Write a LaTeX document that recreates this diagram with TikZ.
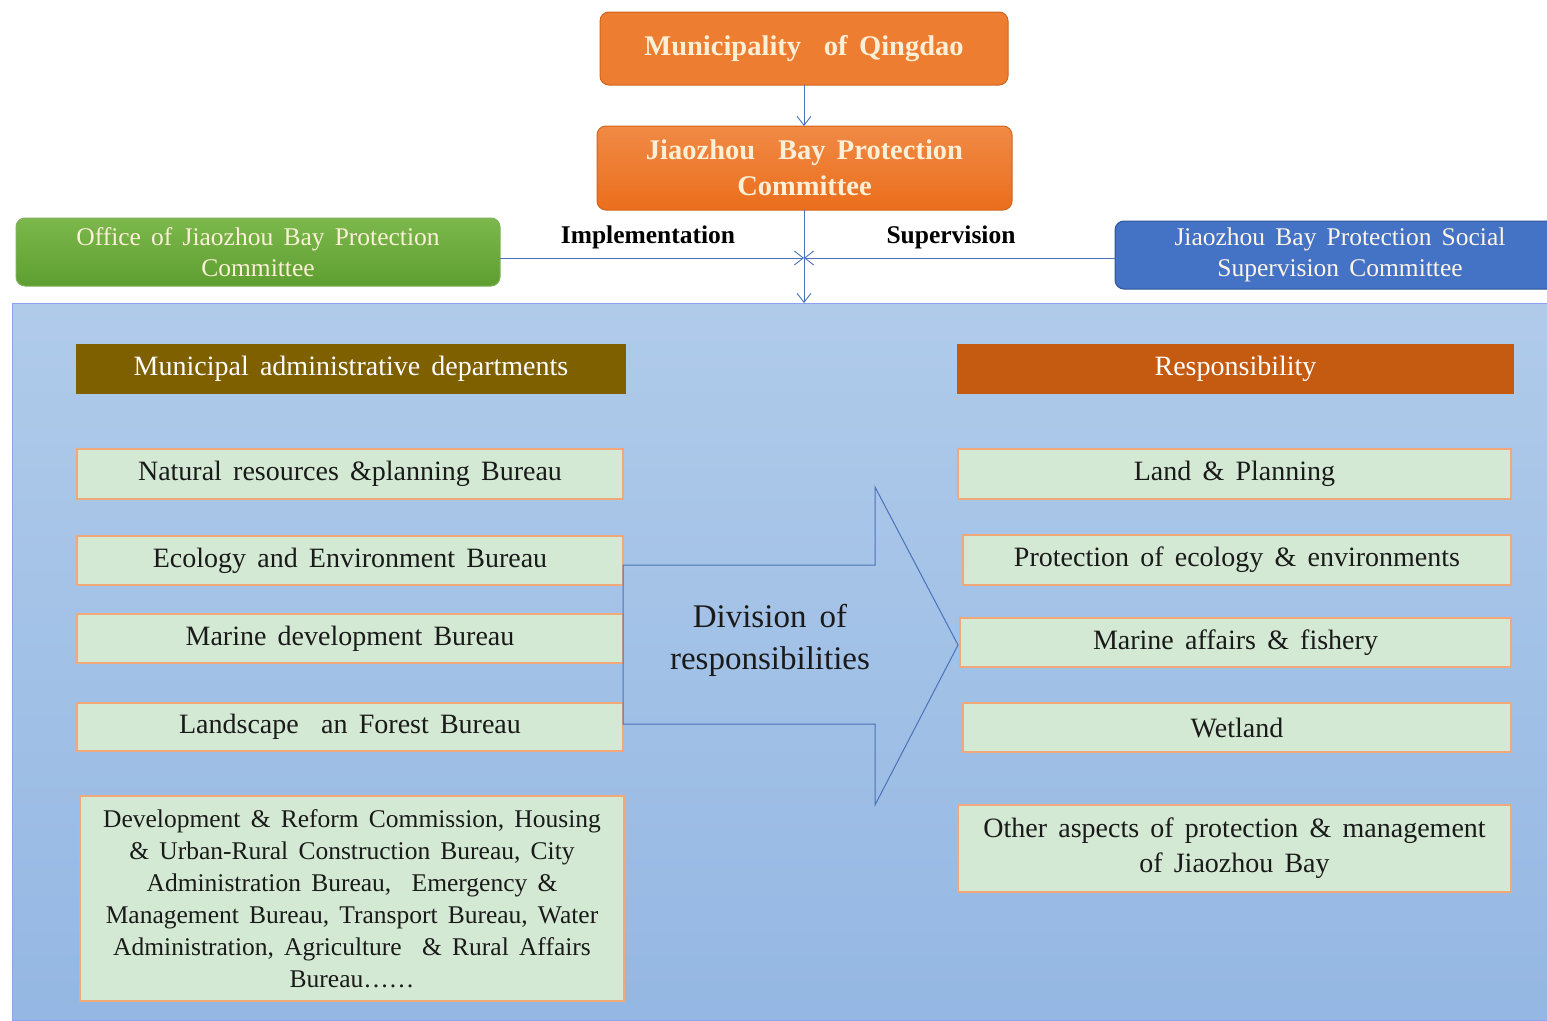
\documentclass[tikz,border=0pt]{standalone}
\usepackage{fontspec}
\setmainfont{Liberation Serif}[WordSpace=1.6]
\usetikzlibrary{arrows.meta}
\definecolor{orgA}{HTML}{ED7D31}
\definecolor{orgB}{HTML}{F08A45}
\definecolor{orgC}{HTML}{EB6E1C}
\definecolor{orgBorder}{HTML}{D0651E}
\definecolor{cream}{HTML}{FCEFD8}
\definecolor{grnA}{HTML}{7CB84C}
\definecolor{grnB}{HTML}{5E9E30}
\definecolor{bluS}{HTML}{4472C4}
\definecolor{bluBorder}{HTML}{2F5597}
\definecolor{lineblue}{HTML}{4A72B8}
\definecolor{panelTop}{HTML}{B0CBEA}
\definecolor{panelBot}{HTML}{94B7E3}
\definecolor{olive}{HTML}{7F6000}
\definecolor{rust}{HTML}{C55A11}
\definecolor{boxfill}{HTML}{D3E9D3}
\definecolor{boxedge}{HTML}{F0A878}
\definecolor{txt}{HTML}{1A1A1A}
\tikzset{
  topbox/.style={rounded corners=9pt, draw=orgBorder, line width=1pt, inner sep=0pt, outer sep=0pt,
     text=cream, align=center, anchor=north west},
  sidebox/.style={rounded corners=9pt, line width=1pt, inner sep=0pt, outer sep=0pt,
     align=center, anchor=north west, font=\fontsize{25.5}{31}\selectfont},
  header/.style={inner sep=0pt, outer sep=0pt, anchor=north west, text=white,
     font=\fontsize{28}{30}\selectfont},
  item/.style={fill=boxfill, draw=boxedge, line width=1.5pt, inner sep=0pt, outer sep=0pt,
     anchor=north west, text=txt, align=center, font=\fontsize{28}{30}\selectfont},
  conn/.style={draw=lineblue, line width=0.9pt},
  tip/.style={-{Straight Barb[length=9pt,width=14pt,line width=0.9pt]}},
  lbl/.style={font=\fontsize{25.5}{26}\selectfont\bfseries, text=black}
}
\begin{document}
\begin{tikzpicture}[x=1pt,y=-1pt]
\useasboundingbox (0,0) rectangle (1547,1020);
\clip (0,0) rectangle (1547,1020);
\fill[white] (0,0) rectangle (1547,1020);

% panel
\node[inner sep=0pt, outer sep=0pt, anchor=north west, minimum width=1545pt, minimum height=717pt,
  top color=panelTop, bottom color=panelBot, draw=panelTop!80!blue, line width=0.8pt] (panel) at (12,303) {};

% top boxes
\node[topbox, fill=orgA, minimum width=408pt, minimum height=73pt,
  font=\fontsize{28.5}{34}\selectfont\bfseries] (muni) at (600,12) {Municipality\ \ of Qingdao};
\node[topbox, top color=orgB, bottom color=orgC, minimum width=415pt, minimum height=84pt,
  font=\fontsize{28.5}{36}\selectfont\bfseries] (jbpc) at (597,126) {Jiaozhou\ \ Bay Protection\\Committee};
\node[sidebox, top color=grnA, bottom color=grnB, draw=grnB!80!white, text=cream,
  minimum width=484pt, minimum height=68pt] (office) at (16,218) {Office of Jiaozhou Bay Protection\\Committee};
\node[sidebox, fill=bluS, draw=bluBorder, text=cream!60!white,
  minimum width=450pt, minimum height=68pt] (social) at (1115,221) {Jiaozhou Bay Protection Social\\Supervision Committee};

% labels
\node[lbl] (impl) at (648,237) {Implementation};
\node[lbl] (sup) at (951,237) {Supervision};

% connectors
\coordinate (junc) at (804,258);
\draw[conn, tip] (muni.south -| junc) -- (jbpc.north -| junc);
\draw[conn, tip] (jbpc.south -| junc) -- (junc |- panel.north);
\draw[conn, tip] (office.east |- junc) -- (junc);
\draw[conn, tip] (social.west |- junc) -- (junc);

% headers
\node[header, fill=olive, minimum width=550pt, minimum height=50pt] (lhead) at (76,344) {Municipal\ administrative\ departments};
\node[header, fill=rust, minimum width=557pt, minimum height=50pt] (rhead) at (957,344) {Responsibility};

% left items
\node[item, minimum width=546pt, minimum height=50pt] (l1) at (77,449) {Natural\ resources\ \&planning\ Bureau};
\node[item, minimum width=546pt, minimum height=49pt] (l2) at (77,536) {Ecology\ and\ Environment\ Bureau};
\node[item, minimum width=546pt, minimum height=49pt] (l3) at (77,614) {Marine\ development\ Bureau};
\node[item, minimum width=546pt, minimum height=48pt] (l4) at (77,703) {Landscape\ \ an Forest Bureau};
\node[item, minimum width=544pt, minimum height=205pt, font=\fontsize{25.5}{32}\selectfont] (l5) at (80,796)
  {Development\ \& Reform Commission, Housing\\\& Urban-Rural\ Construction Bureau,\ City\\Administration\ Bureau,\ \ Emergency\ \&\\Management\ Bureau, Transport Bureau,\ Water\\Administration,\ Agriculture\ \ \& Rural Affairs\\Bureau\dots\dots};

% right items
\node[item, minimum width=553pt, minimum height=50pt] (r1) at (958,449) {Land\ \&\ Planning};
\node[item, minimum width=548pt, minimum height=50pt] (r2) at (963,535) {Protection of ecology\ \&\ environments};
\node[item, minimum width=551pt, minimum height=49pt] (r3) at (960,618) {Marine affairs\ \&\ fishery};
\node[item, minimum width=548pt, minimum height=49pt] (r4) at (963,703) {Wetland};
\node[item, minimum width=553pt, minimum height=87pt, font=\fontsize{28}{35}\selectfont] (r5) at (958,805)
  {Other aspects\ of protection\ \&\ management\\of Jiaozhou Bay};

% big arrow
\draw[draw=lineblue, line width=1pt, line join=miter]
  (623,565) -- (875,565) -- (875,487) -- (958,645) -- (875,805) -- (875,724) -- (623,724) -- cycle;
\node[text=txt, align=center, font=\fontsize{33}{42}\selectfont] (div) at (770,640) {Division\ of\\responsibilities};
\end{tikzpicture}
\end{document}
